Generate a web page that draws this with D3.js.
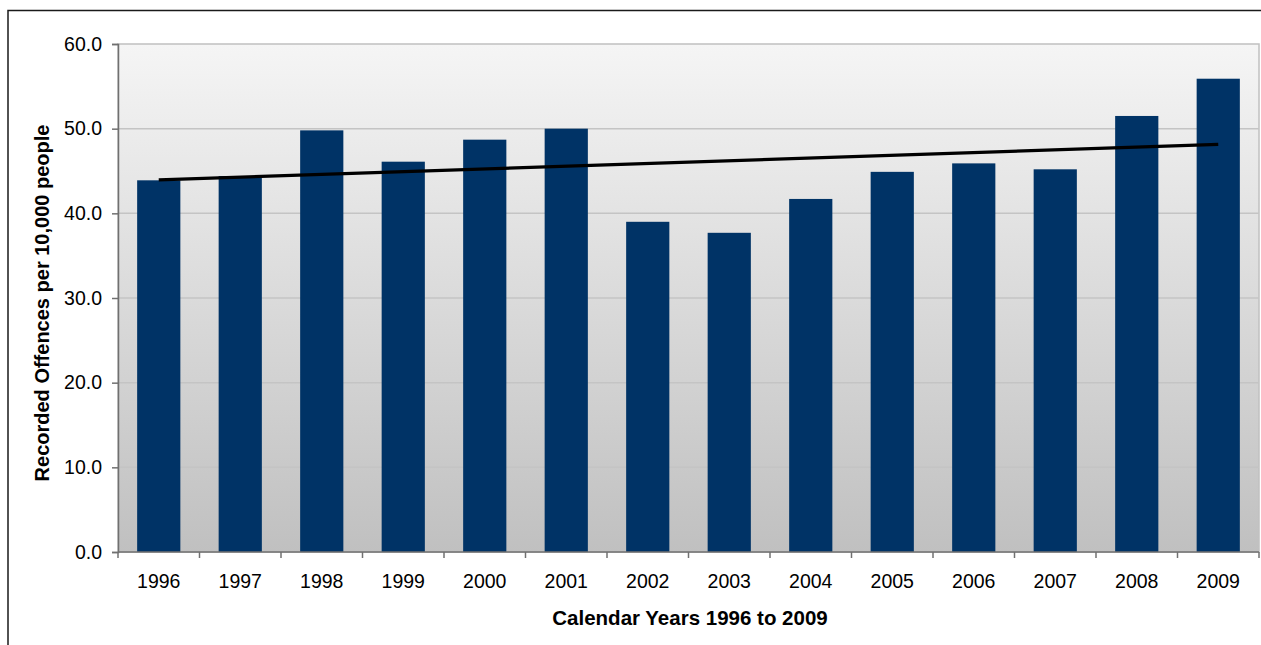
<!DOCTYPE html>
<html>
<head>
<meta charset="utf-8">
<script src="https://cdn.jsdelivr.net/npm/d3@7/dist/d3.min.js"></script>
<style>
  html, body { margin: 0; padding: 0; background: #fff; }
  svg { display: block; font-family: "Liberation Sans", Arial, sans-serif; }
</style>
</head>
<body>
<svg id="chart" width="1261" height="645"></svg>
<script>
// Recorded offences per 10,000 people, calendar years 1996–2009
const years = ["1996","1997","1998","1999","2000","2001","2002","2003","2004","2005","2006","2007","2008","2009"];
const offences = [43.9, 44.4, 49.8, 46.1, 48.7, 50.0, 39.0, 37.7, 41.7, 44.9, 45.9, 45.2, 51.5, 55.9];
const yTicks = [0, 10, 20, 30, 40, 50, 60];
const xTitle = "Calendar Years 1996 to 2009";
const yTitle = "Recorded Offences per 10,000 people";

const svg = d3.select("#chart");
const plot = { left: 118, top: 44, right: 1259, bottom: 552 };

// outer chart frame (runs past the right and bottom edges)
svg.append("rect")
  .attr("x", 8).attr("y", 10.5)
  .attr("width", 1400).attr("height", 800)
  .attr("fill", "none").attr("stroke", "#1a1a1a").attr("stroke-width", 1.5);

const defs = svg.append("defs");
const grad = defs.append("linearGradient")
  .attr("id", "plotBg").attr("x1", 0).attr("y1", 0).attr("x2", 0).attr("y2", 1);
grad.append("stop").attr("offset", "0%").attr("stop-color", "#f5f5f5");
grad.append("stop").attr("offset", "100%").attr("stop-color", "#c0c0c0");

const x = d3.scaleBand().domain(years).range([plot.left, plot.right]).paddingInner(0.47).paddingOuter(0.235);
const xOuter = d3.scaleBand().domain(years).range([plot.left, plot.right]);
const y = d3.scaleLinear().domain([0, 60]).range([plot.bottom, plot.top]);

// plot background
svg.append("rect")
  .attr("x", plot.left).attr("y", plot.top)
  .attr("width", plot.right - plot.left).attr("height", plot.bottom - plot.top)
  .attr("fill", "url(#plotBg)")
  .attr("stroke", "#c0c0c0").attr("stroke-width", 1.5);

// horizontal gridlines
svg.append("g").selectAll("line")
  .data(yTicks.filter(d => d > 0 && d < 60))
  .join("line")
  .attr("x1", plot.left).attr("x2", plot.right)
  .attr("y1", d => y(d)).attr("y2", d => y(d))
  .attr("stroke", "#c4c4c4").attr("stroke-width", 1.5);

// bars
svg.append("g").selectAll("rect")
  .data(offences)
  .join("rect")
  .attr("x", (d, i) => x(years[i]))
  .attr("width", x.bandwidth())
  .attr("y", d => y(d))
  .attr("height", d => y(0) - y(d))
  .attr("fill", "#003366");

// least-squares linear trend
const n = offences.length;
const xs = d3.range(n);
const mx = d3.mean(xs), my = d3.mean(offences);
const slope = d3.sum(xs, i => (i - mx) * (offences[i] - my)) / d3.sum(xs, i => (i - mx) ** 2);
const intercept = my - slope * mx;
const trend = [0, n - 1].map(i => [x(years[i]) + x.bandwidth() / 2, y(intercept + slope * i)]);
svg.append("path")
  .attr("d", d3.line()(trend))
  .attr("stroke", "#000").attr("stroke-width", 3.2).attr("fill", "none");

// y axis
const yAxis = svg.append("g")
  .attr("transform", `translate(${plot.left},0)`)
  .call(d3.axisLeft(y).tickValues(yTicks).tickFormat(d3.format(".1f")).tickSize(6).tickPadding(10));
yAxis.select(".domain").attr("stroke", "#707070").attr("stroke-width", 1.5);
yAxis.selectAll(".tick line").attr("stroke", "#707070").attr("stroke-width", 1.5);
yAxis.selectAll(".tick text").attr("font-size", 19.5).attr("fill", "#000").attr("font-family", "Liberation Sans, Arial, sans-serif");

// x axis: ticks sit between categories
const xAxis = svg.append("g")
  .attr("transform", `translate(0,${plot.bottom})`)
  .call(d3.axisBottom(x).tickSize(0).tickPadding(22));
xAxis.select(".domain").attr("d", `M${plot.left},0H${plot.right}`).attr("stroke", "#707070").attr("stroke-width", 1.5);
xAxis.selectAll(".tick text").attr("font-size", 19.5).attr("fill", "#000").attr("font-family", "Liberation Sans, Arial, sans-serif");
xAxis.append("g").selectAll("line")
  .data(years.concat(["end"]))
  .join("line")
  .attr("x1", (d, i) => plot.left + i * xOuter.step())
  .attr("x2", (d, i) => plot.left + i * xOuter.step())
  .attr("y1", 0).attr("y2", 6)
  .attr("stroke", "#707070").attr("stroke-width", 1.5);

// axis titles
svg.append("text")
  .attr("x", 690).attr("y", 625)
  .attr("text-anchor", "middle")
  .attr("font-size", 20.5).attr("font-weight", "bold")
  .text(xTitle);

svg.append("text")
  .attr("transform", `translate(49,303) rotate(-90)`)
  .attr("text-anchor", "middle")
  .attr("font-size", 20).attr("font-weight", "bold")
  .text(yTitle);
</script>
</body>
</html>
